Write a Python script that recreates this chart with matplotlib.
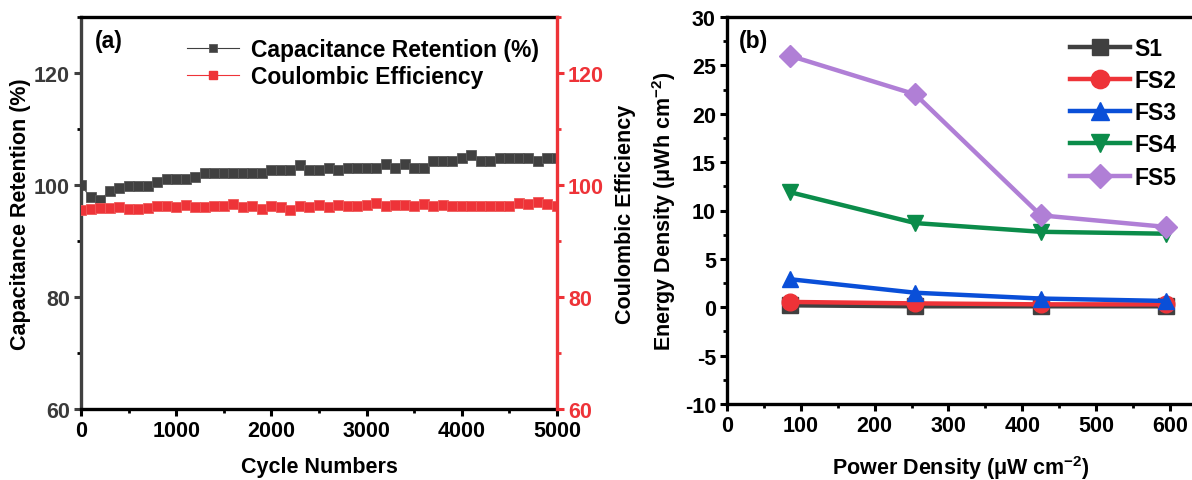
import matplotlib
matplotlib.use("Agg")
import matplotlib.pyplot as plt
from matplotlib.ticker import MultipleLocator

plt.rcParams['font.family'] = ['Liberation Sans', 'DejaVu Sans']
plt.rcParams['font.weight'] = 'bold'
plt.rcParams['mathtext.default'] = 'regular'
plt.rcParams['axes.unicode_minus'] = False

# ---------------- data ----------------
cycles = list(range(0, 5001, 100))
cap_retention = [100.0, 97.8, 97.3, 98.9, 99.4, 99.8, 99.9, 99.9, 100.5, 101.0,
                 101.0, 101.0, 101.5, 102.1, 102.1, 102.1, 102.1, 102.1, 102.1, 102.1,
                 102.6, 102.6, 102.6, 103.6, 102.6, 102.6, 103.1, 102.6, 103.1, 103.1,
                 103.1, 103.1, 103.75, 103.1, 103.75, 103.1, 103.1, 104.2, 104.2, 104.2,
                 104.8, 105.4, 104.2, 104.2, 104.8, 104.8, 104.8, 104.8, 104.2, 104.8,
                 104.8]
coulombic_eff = [95.5, 95.7, 95.9, 95.9, 96.0, 95.7, 95.8, 95.9, 96.2, 96.2,
                 96.0, 96.5, 96.1, 96.0, 96.2, 96.3, 96.55, 96.1, 96.3, 95.8,
                 96.3, 96.1, 95.5, 96.3, 96.1, 96.4, 96.1, 96.5, 96.3, 96.2,
                 96.5, 96.7, 96.3, 96.5, 96.5, 96.3, 96.6, 96.3, 96.35, 96.3,
                 96.3, 96.3, 96.3, 96.2, 96.3, 96.3, 96.7, 96.6, 96.9, 96.6,
                 96.3]

power_density = [85, 255, 425, 595]
series_names = ['S1', 'FS2', 'FS3', 'FS4', 'FS5']
energy_S1 = [0.2, 0.1, 0.1, 0.1]
energy_FS2 = [0.55, 0.4, 0.3, 0.3]
energy_FS3 = [2.9, 1.5, 0.9, 0.65]
energy_FS4 = [11.9, 8.7, 7.8, 7.6]
energy_FS5 = [26.0, 22.0, 9.5, 8.3]

W, H = 1192, 481
fig = plt.figure(figsize=(W / 100, H / 100), dpi=100)

def box(l, r, t, b):
    return [l / W, (H - b) / H, (r - l) / W, (b - t) / H]

GRAY = '#404040'
RED = '#ee3338'
FS = 15.5

# ---------------- panel (a) ----------------
ax1 = fig.add_axes(box(81, 557, 18, 410))
ax1.plot(cycles, cap_retention, color=GRAY, lw=0.8, marker='s', ms=7,
         mfc=GRAY, mec='#5a5a5a', mew=0.6, label='Capacitance Retention (%)')
ax1.plot([], [], color=RED, lw=0.8, marker='s', ms=7, mfc=RED, mec=RED,
         label='Coulombic Efficiency')
ax1.set_xlim(0, 5000)
ax1.set_ylim(60, 130)
ax1.xaxis.set_major_locator(MultipleLocator(1000))
ax1.xaxis.set_minor_locator(MultipleLocator(500))
ax1.yaxis.set_major_locator(MultipleLocator(20))
ax1.yaxis.set_minor_locator(MultipleLocator(10))
ax1.tick_params(axis='both', which='major', direction='out', length=5, width=2.2,
                labelsize=FS, pad=3)
ax1.tick_params(axis='both', which='minor', direction='out', length=3, width=2.0)
ax1.tick_params(axis='y', colors=GRAY, labelcolor='#3a3a3a')
ax1.tick_params(axis='x', colors='black')
ax1.set_yticks([60, 80, 100, 120])
for lab in ax1.get_xticklabels() + ax1.get_yticklabels():
    lab.set_fontweight('bold')
ax1.spines['left'].set_color(GRAY)
ax1.spines['top'].set_color('black')
ax1.spines['bottom'].set_color('black')
for s in ax1.spines.values():
    s.set_linewidth(2.4)
ax1.spines['right'].set_visible(False)
ax1.set_xlabel('Cycle Numbers', fontsize=FS, fontweight='bold', labelpad=11)
ax1.set_ylabel('Capacitance Retention (%)', fontsize=FS, fontweight='bold', labelpad=2)
ax1.text(0.03, 0.94, '(a)', transform=ax1.transAxes, fontsize=FS + 1,
         fontweight='bold', va='center', ha='left')

ax2 = ax1.twinx()
ax2.plot(cycles, coulombic_eff, color=RED, lw=0.8, marker='s', ms=7,
         mfc=RED, mec='#f05a5a', mew=0.6)
ax2.set_ylim(60, 130)
ax2.yaxis.set_major_locator(MultipleLocator(20))
ax2.yaxis.set_minor_locator(MultipleLocator(10))
ax2.set_yticks([60, 80, 100, 120])
ax2.tick_params(axis='y', which='major', direction='out', length=5, width=2.2,
                labelsize=FS, colors=RED, pad=3)
ax2.tick_params(axis='y', which='minor', direction='out', length=3, width=2.0, colors=RED)
for lab in ax2.get_yticklabels():
    lab.set_fontweight('bold')
ax2.spines['right'].set_color(RED)
ax2.spines['right'].set_linewidth(2.4)
for k in ['left', 'top', 'bottom']:
    ax2.spines[k].set_visible(False)
ax2.set_ylabel('Coulombic Efficiency', fontsize=FS, fontweight='bold', labelpad=8)

leg1 = ax1.legend(loc='upper right', bbox_to_anchor=(1.005, 1.0), frameon=False,
                  fontsize=FS + 1, handlelength=2.3, handletextpad=0.5,
                  labelspacing=0.2, borderaxespad=0.5, markerscale=0.75)
for t in leg1.get_texts():
    t.set_fontweight('bold')

# ---------------- panel (b) ----------------
ax3 = fig.add_axes(box(727, 727 + 634 * 0.7383, 18, 405))
colors_b = ['#404040', '#ee3338', '#0a4fd8', '#0b8c4a', '#b07fd6']
markers_b = ['s', 'o', '^', 'v', 'D']
energies = [energy_S1, energy_FS2, energy_FS3, energy_FS4, energy_FS5]
msizes = [11, 12, 12, 12, 11]
for name, e, c, m, msz in zip(series_names, energies, colors_b, markers_b, msizes):
    ax3.plot(power_density, e, color=c, lw=3.2, marker=m, ms=msz, mfc=c, mec=c,
             label=name)
ax3.set_xlim(0, 634)
ax3.set_ylim(-10, 30)
ax3.xaxis.set_major_locator(MultipleLocator(100))
ax3.xaxis.set_minor_locator(MultipleLocator(50))
ax3.set_xticks([0, 100, 200, 300, 400, 500, 600])
ax3.yaxis.set_major_locator(MultipleLocator(5))
ax3.yaxis.set_minor_locator(MultipleLocator(2.5))
ax3.tick_params(axis='both', which='major', direction='out', length=5, width=2.2,
                labelsize=FS, pad=3, colors='black')
ax3.tick_params(axis='both', which='minor', direction='out', length=3, width=2.0)
for lab in ax3.get_xticklabels() + ax3.get_yticklabels():
    lab.set_fontweight('bold')
for s in ax3.spines.values():
    s.set_linewidth(2.4)
    s.set_color('black')
ax3.set_xlabel('Power Density ($\\mu$W cm$^{-2}$)', fontsize=FS, fontweight='bold',
               labelpad=12)
ax3.set_ylabel('Energy Density ($\\mu$Wh cm$^{-2}$)', fontsize=FS, fontweight='bold',
               labelpad=5)
ax3.text(0.025, 0.94, '(b)', transform=ax3.transAxes, fontsize=FS + 1,
         fontweight='bold', va='center', ha='left')
leg3 = ax3.legend(loc='upper right', bbox_to_anchor=(0.995, 0.99), frameon=False,
                  fontsize=FS + 1, handlelength=2.6, handletextpad=0.2,
                  labelspacing=0.4, borderaxespad=0.3, markerscale=1.1)
for t in leg3.get_texts():
    t.set_fontweight('bold')

fig.savefig('out.png', dpi=100)
